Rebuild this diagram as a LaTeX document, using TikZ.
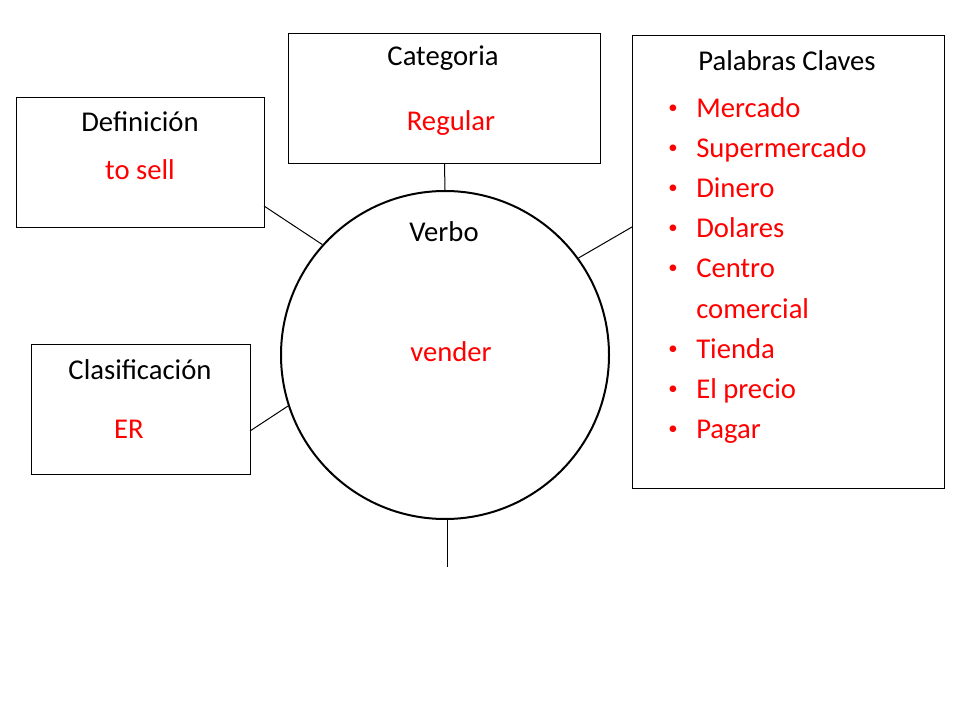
\documentclass[tikz,border=0pt]{standalone}
\usepackage{fontspec}
\setmainfont{Carlito}
\usetikzlibrary{positioning}
\tikzset{
    box/.style={
        draw, rectangle, anchor=north west, line width=0.75pt, fill=white
    },
    title/.style={
        font=\fontsize{21.5}{24}\selectfont, text=black
    },
    value/.style={
        font=\fontsize{21.5}{24}\selectfont, text=red
    },
    link/.style={
        line width=0.75pt
    }
}
\begin{document}
\begin{tikzpicture}[x=0.75pt, y=-0.75pt]
    \useasboundingbox (0,0) rectangle (960,720);

    % boxes
    \node (def) [box, minimum width=186pt, minimum height=97.5pt] at (16,97) {};
    \node (cat) [box, minimum width=234pt, minimum height=97.5pt] at (288,33) {};
    \node (pal) [box, minimum width=234pt, minimum height=340pt] at (632,35) {};
    \node (cla) [box, minimum width=164pt, minimum height=97.5pt] at (31,344) {};
    \node (verbo) [draw, circle, line width=1.5pt, minimum size=246pt] at (445,355) {};

    % texts
    \node (defT) [title] at (140,122) {Definición};
    \node (defV) [value] at (140,170) {to sell};
    \node (catT) [title] at (443,58) {Categoria};
    \node (catV) [value] at (451,123) {Regular};
    \node (palT) [title] at (787,61) {Palabras Claves};
    \node (claT) [title] at (140,370) {Clasificación};
    \node (claV) [value] at (129,429) {ER};
    \node (verT) [title] at (444,232) {Verbo};
    \node (verV) [value] at (451,352) {vender};

    % list
    \foreach \word [count=\i] in {Mercado, Supermercado, Dinero, Dolares, Centro, comercial, Tienda, El precio, Pagar} {
        \node (w\i) [value, anchor=base west, inner sep=0pt] at (696,118+40*\i-40) {\word};
    }
    \foreach \i in {1,2,3,4,5,7,8,9} {
        \node (b\i) [value, font=\fontsize{14}{16}\selectfont, anchor=base, inner sep=0pt] at (673,114+40*\i-40) {•};
    }

    % links
    \coordinate (defE) at (264,206);
    \coordinate (palE) at (632,227);
    \coordinate (claE) at (250,431);
    \coordinate (up) at (447,519);
    \coordinate (down) at (447,567);
    \draw [link] (defE) -- (verbo.138);
    \draw [link] (cat.south) -- (verbo.north);
    \draw [link] (palE) -- (verbo.36);
    \draw [link] (claE) -- (verbo.198);
    \draw [link] (up) -- (down);

\end{tikzpicture}
\end{document}
